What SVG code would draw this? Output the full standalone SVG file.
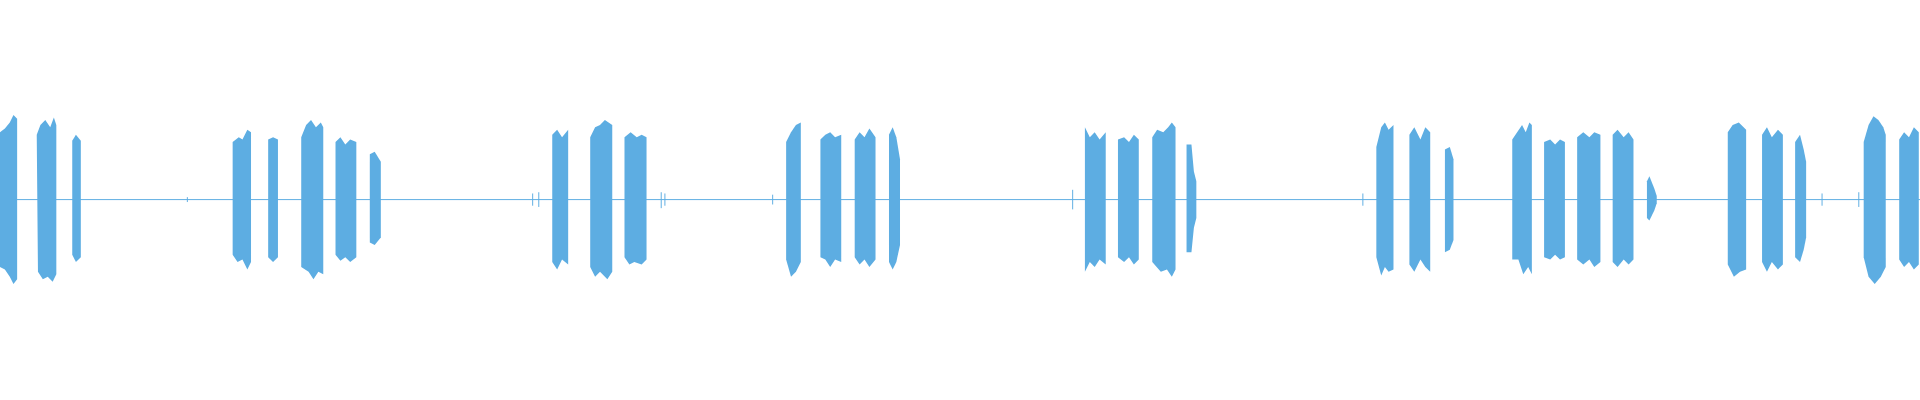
<svg xmlns="http://www.w3.org/2000/svg" width="1920" height="400" viewBox="0 0 1920 400">
<style>.w{fill:#5DADE2}.b{stroke:#5DADE2;stroke-width:0.8}</style>
<rect width="1920" height="400" fill="#fff"/>
<g transform="scale(1.2245)">
<line class="b" x1="0" y1="163" x2="1568" y2="163"/>
<g class="b">
<line x1="435" y1="158" x2="435" y2="168"/><line x1="440" y1="157" x2="440" y2="169"/>
<line x1="631" y1="159" x2="631" y2="167"/><line x1="876" y1="155" x2="876" y2="171"/>
<line x1="1113" y1="158" x2="1113" y2="168"/><line x1="1488" y1="158" x2="1488" y2="168"/>
<line x1="1518" y1="157" x2="1518" y2="169"/><line x1="153" y1="161" x2="153" y2="165"/>
<line x1="540" y1="157" x2="540" y2="170"/><line x1="543" y1="158" x2="543" y2="168"/>
</g>
<g>
<path class="w" d="M0,108 L4,105 L8,100 L11,94 L14,97 L14,228 L11,232 L8,226 L4,220 L0,218Z"/>
<path class="w" d="M30,110 L33,102 L37,98 L41,104 L44,96 L46,102 L46,224 L43,230 L39,226 L35,228 L31,222Z"/>
<path class="w" d="M59,115 L62,110 L66,115 L66,210 L62,214 L59,208Z"/>
<path class="w" d="M190,116 L195,112 L198,114 L202,106 L205,108 L205,214 L202,220 L198,212 L194,214 L190,208Z"/>
<path class="w" d="M219,114 L223,112 L227,114 L227,210 L223,214 L219,210Z"/>
<path class="w" d="M246,112 L250,102 L254,98 L258,104 L262,100 L264,104 L264,224 L260,222 L256,228 L252,222 L246,218Z"/>
<path class="w" d="M274,116 L278,112 L282,118 L286,114 L291,116 L291,210 L286,214 L282,210 L278,213 L274,208Z"/>
<path class="w" d="M302,126 L306,124 L311,132 L311,194 L306,200 L302,198Z"/>
<path class="w" d="M451,110 L455,106 L459,112 L464,106 L464,216 L459,212 L455,220 L451,214Z"/>
<path class="w" d="M482,112 L486,104 L490,102 L494,98 L500,102 L500,222 L496,228 L490,222 L486,226 L482,218Z"/>
<path class="w" d="M510,112 L515,108 L520,112 L524,110 L528,112 L528,212 L524,216 L518,214 L514,216 L510,210Z"/>
<path class="w" d="M642,116 L646,108 L650,102 L654,100 L654,214 L650,222 L646,226 L642,212Z"/>
<path class="w" d="M670,114 L674,110 L678,108 L682,112 L687,110 L687,214 L682,212 L678,218 L674,212 L670,210Z"/>
<path class="w" d="M698,114 L702,108 L706,112 L710,105 L715,112 L715,212 L710,218 L706,212 L702,216 L698,210Z"/>
<path class="w" d="M726,110 L729,104 L732,112 L735,130 L735,200 L732,214 L729,220 L726,214Z"/>
<path class="w" d="M886,104 L890,112 L894,108 L898,114 L903,108 L903,216 L898,212 L894,218 L890,214 L886,222Z"/>
<path class="w" d="M913,114 L918,112 L922,116 L926,110 L930,114 L930,212 L926,216 L922,210 L918,214 L913,210Z"/>
<path class="w" d="M941,112 L945,106 L950,108 L954,104 L957,100 L960,104 L960,220 L957,226 L953,220 L948,222 L941,214Z"/>
<path class="w" d="M969,118 L973,118 L975,140 L977,148 L977,178 L975,186 L973,206 L969,206Z"/>
<path class="w" d="M1124,120 L1128,104 L1131,100 L1134,106 L1138,102 L1138,220 L1134,222 L1131,218 L1128,225 L1124,210Z"/>
<path class="w" d="M1151,110 L1155,104 L1160,114 L1164,104 L1168,108 L1168,222 L1164,218 L1160,212 L1155,222 L1151,216Z"/>
<path class="w" d="M1180,122 L1184,120 L1187,130 L1187,196 L1184,204 L1180,206Z"/>
<path class="w" d="M1235,114 L1239,108 L1243,102 L1246,108 L1249,100 L1251,102 L1251,224 L1248,218 L1244,224 L1240,212 L1235,212Z"/>
<path class="w" d="M1261,116 L1266,114 L1270,118 L1274,114 L1278,116 L1278,210 L1274,212 L1270,208 L1266,212 L1261,210Z"/>
<path class="w" d="M1288,112 L1293,108 L1298,112 L1302,108 L1307,110 L1307,214 L1302,218 L1298,212 L1293,216 L1288,212Z"/>
<path class="w" d="M1317,110 L1321,106 L1326,112 L1330,108 L1334,114 L1334,212 L1330,216 L1326,212 L1321,218 L1317,214Z"/>
<path class="w" d="M1345,148 L1347,144 L1351,154 L1353,160 L1353,166 L1351,172 L1347,180 L1345,178Z"/>
<path class="w" d="M1411,108 L1415,102 L1420,100 L1426,106 L1426,220 L1421,222 L1416,226 L1411,216Z"/>
<path class="w" d="M1439,110 L1443,104 L1447,112 L1452,106 L1456,110 L1456,216 L1452,220 L1447,214 L1443,222 L1439,214Z"/>
<path class="w" d="M1466,116 L1470,110 L1473,122 L1475,132 L1475,194 L1473,204 L1470,214 L1466,210Z"/>
<path class="w" d="M1522,116 L1526,102 L1530,95 L1534,98 L1538,104 L1540,110 L1540,218 L1536,226 L1531,232 L1526,226 L1522,210Z"/>
<path class="w" d="M1551,114 L1555,108 L1559,112 L1563,104 L1567,108 L1567,216 L1563,220 L1559,214 L1555,218 L1551,212Z"/>
</g>
</g>
</svg>
